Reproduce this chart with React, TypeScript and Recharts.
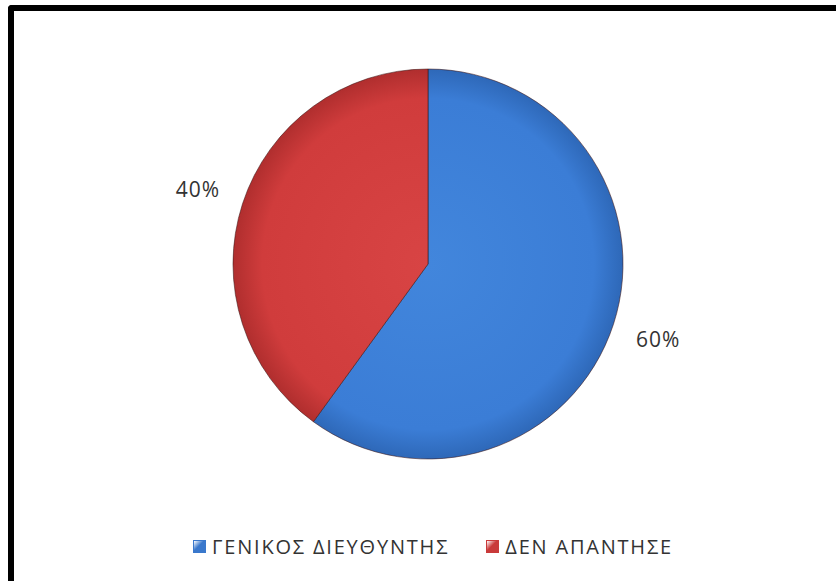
import { PieChart, Pie, Cell, Legend } from "recharts"

const categories = ["ΓΕΝΙΚΟΣ ΔΙΕΥΘΥΝΤΗΣ", "ΔΕΝ ΑΠΑΝΤΗΣΕ"]
const shares = [60, 40]
const labels = ["60%", "40%"]

const fills = ["url(#gradBlue)", "url(#gradRed)"]
const legendFills = ["#3a78cc", "#c93a3a"]

const data = categories.map((name, i) => ({ name, value: shares[i], label: labels[i] }))

const RAD = Math.PI / 180

function renderLabel(props: any) {
  const { cx, cy, midAngle, outerRadius, index } = props
  const r = outerRadius + 47
  const x = cx + r * Math.cos(-midAngle * RAD)
  const y = cy + r * Math.sin(-midAngle * RAD)
  return (
    <text
      x={x}
      y={y}
      fill="#333"
      fontSize={21}
      letterSpacing={1}
      fontFamily="'Open Sans', sans-serif"
      textAnchor="middle"
      dominantBaseline="central"
    >
      {data[index].label}
    </text>
  )
}

function LegendContent() {
  return (
    <div
      style={{
        display: "flex",
        justifyContent: "center",
        gap: 37,
        fontFamily: "'Open Sans', sans-serif",
        fontSize: 20,
        letterSpacing: 1.8,
        color: "#333",
      }}
    >
      {data.map((d, i) => (
        <div key={d.name} style={{ display: "flex", alignItems: "center", gap: 6 }}>
          <span
            style={{
              width: 11,
              height: 11,
              display: "inline-block",
              background: `linear-gradient(135deg, #fff 0%, ${legendFills[i]} 45%, ${legendFills[i]} 100%)`,
              border: `1px solid ${legendFills[i]}`,
            }}
          />
          <span>{d.name}</span>
        </div>
      ))}
    </div>
  )
}

export default function App() {
  return (
    <div style={{ position: "absolute", left: 0, top: 0, width: 836, height: 581, background: "#fff" }}>
      <div
        style={{
          position: "absolute",
          left: 8,
          top: 5,
          width: 836,
          height: 600,
          borderTop: "6px solid #000",
          borderLeft: "6px solid #000",
          borderTopLeftRadius: 4,
          boxSizing: "border-box",
        }}
      />
      <div style={{ position: "absolute", left: 0, top: 0 }}>
        <PieChart width={836} height={581} margin={{ top: 0, right: 0, bottom: 0, left: 0 }}>
          <defs>
            <radialGradient id="gradBlue" cx={428} cy={264} r={195} gradientUnits="userSpaceOnUse">
              <stop offset="0%" stopColor="#4286dc" />
              <stop offset="85%" stopColor="#3b7dd6" />
              <stop offset="100%" stopColor="#2e68b8" />
            </radialGradient>
            <radialGradient id="gradRed" cx={428} cy={264} r={195} gradientUnits="userSpaceOnUse">
              <stop offset="0%" stopColor="#d84444" />
              <stop offset="85%" stopColor="#d03c3c" />
              <stop offset="100%" stopColor="#b02e2e" />
            </radialGradient>
          </defs>
          <Pie
            data={data}
            dataKey="value"
            nameKey="name"
            cx={428}
            cy={264}
            outerRadius={195}
            startAngle={90}
            endAngle={-270}
            stroke="rgba(60,20,20,0.55)"
            strokeWidth={1}
            label={renderLabel}
            labelLine={false}
            isAnimationActive={false}
          >
            {data.map((d, i) => (
              <Cell key={d.name} fill={fills[i]} />
            ))}
          </Pie>
          <Legend
            content={<LegendContent />}
            layout="horizontal"
            verticalAlign="bottom"
            wrapperStyle={{ left: 15, width: 836, top: 533 }}
          />
        </PieChart>
      </div>
    </div>
  )
}
